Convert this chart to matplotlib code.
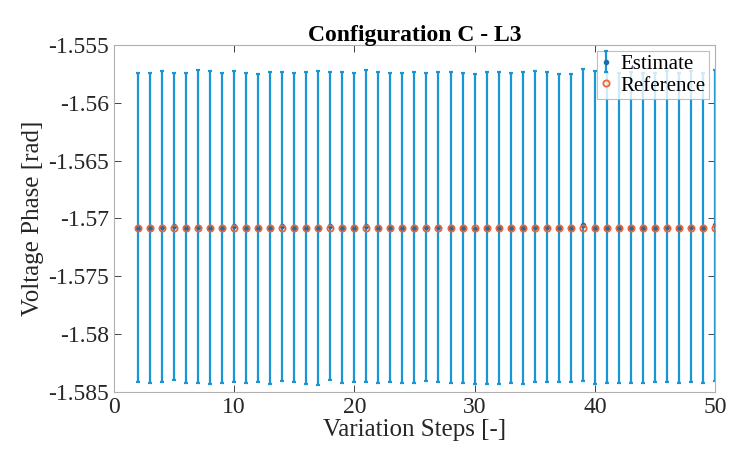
import numpy as np
import matplotlib
matplotlib.use('Agg')
import matplotlib.pyplot as plt
from matplotlib.ticker import FuncFormatter

plt.rcParams['font.family'] = ['Liberation Serif', 'DejaVu Serif']
plt.rcParams['axes.unicode_minus'] = False

steps = list(range(2, 51))
estimate = [-1.5708, -1.5708, -1.5707, -1.57068, -1.5708, -1.5707, -1.5708, -1.5708, -1.57068, -1.5708,
            -1.5708, -1.5708, -1.57068, -1.5708, -1.5708, -1.5708, -1.57068, -1.5708, -1.5708, -1.57068,
            -1.5708, -1.5708, -1.5708, -1.5708, -1.5707, -1.5707, -1.5708, -1.5708, -1.5709, -1.5708,
            -1.5708, -1.5708, -1.5708, -1.5707, -1.5707, -1.5708, -1.5708, -1.57057, -1.5708, -1.5708,
            -1.5708, -1.5708, -1.5708, -1.5708, -1.5707, -1.5708, -1.5707, -1.5708, -1.5706]
err = [0.01335, 0.01341, 0.01345, 0.01329, 0.01338, 0.01351, 0.01352, 0.01341, 0.01346, 0.01341,
       0.01332, 0.01347, 0.01337, 0.01335, 0.01347, 0.01355, 0.01332, 0.01344, 0.01335, 0.01349,
       0.01344, 0.01335, 0.01341, 0.01344, 0.01331, 0.01339, 0.01344, 0.01338, 0.01342, 0.01349,
       0.01347, 0.01338, 0.01349, 0.01342, 0.01339, 0.01332, 0.01329, 0.01347, 0.01352, 0.01340,
       0.01338, 0.01342, 0.01340, 0.01336, 0.01341, 0.01339, 0.01343, 0.01340, 0.01344]
reference = [-1.5708] * len(steps)

fig = plt.figure(figsize=(7.29, 4.58), dpi=100)
ax = fig.add_axes([0.156, 0.144, 0.825, 0.758])

eb = ax.errorbar(steps, estimate, yerr=err, fmt='.', color='#1b96d4', ecolor='#1b96d4',
                 elinewidth=1.6, capsize=1.5, capthick=1.6, markersize=6,
                 markerfacecolor='#1a6fa8', markeredgecolor='#1a6fa8', label='Estimate')
ref, = ax.plot(steps, reference, 'o', markersize=4.5, markerfacecolor='none',
               markeredgecolor='#ef6535', markeredgewidth=1.3, label='Reference', zorder=4)

ax.set_xlim(0, 50)
ax.set_ylim(-1.585, -1.555)
ax.set_xticks([0, 10, 20, 30, 40, 50])
ax.set_yticks(np.arange(-1.585, -1.5549, 0.005))
ax.yaxis.set_major_formatter(FuncFormatter(lambda v, p: ('%.3f' % v).rstrip('0')))

ax.tick_params(direction='in', top=True, right=True, labelsize=17, colors='#262626',
               length=5, width=0.6)
for s in ax.spines.values():
    s.set_color('#b0b0b0')
    s.set_linewidth(0.8)

ax.set_xlabel('Variation Steps [-]', fontsize=18, color='#262626', labelpad=1)
ax.set_ylabel('Voltage Phase [rad]', fontsize=18, color='#262626', labelpad=3)
ax.set_title('Configuration C - L3', fontsize=17, fontweight='bold', pad=3)

leg = ax.legend([eb, ref], ['Estimate', 'Reference'], loc='upper right', fontsize=15,
                frameon=True, fancybox=False, borderaxespad=0.3, handlelength=0.6,
                handletextpad=0.4, borderpad=0.15, labelspacing=0.1)
leg.get_frame().set_edgecolor('#b0b0b0')
leg.get_frame().set_linewidth(0.8)

fig.savefig('out.png', dpi=100)
